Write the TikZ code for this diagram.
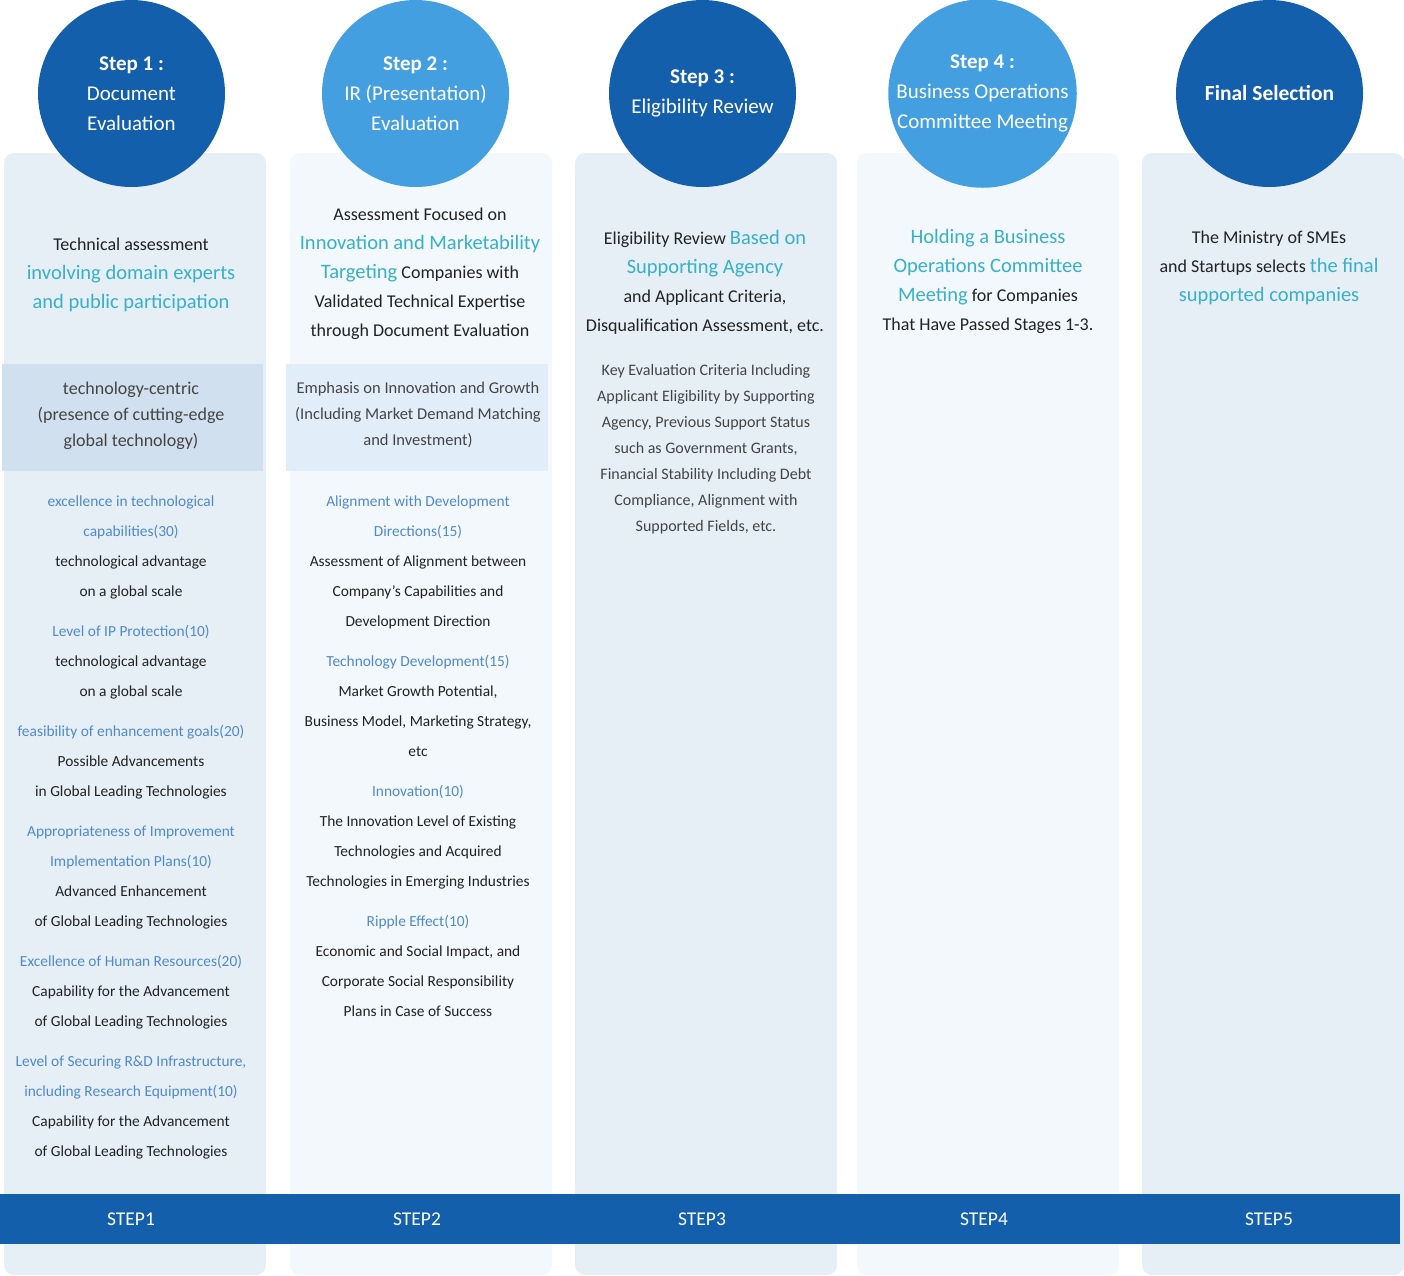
\documentclass[tikz,border=0pt]{standalone}
\usepackage{fontspec}
\setmainfont{Carlito}
\definecolor{darkblue}{HTML}{135FAC}
\definecolor{lightblue}{HTML}{439FE0}
\definecolor{colA}{HTML}{E6EEF6}
\definecolor{colB}{HTML}{F3F8FC}
\definecolor{boxA}{HTML}{D0E0EF}
\definecolor{boxB}{HTML}{E1EEFA}
\definecolor{tealtext}{HTML}{38B0C9}
\definecolor{crittext}{HTML}{4F8ACB}
\definecolor{bodytext}{HTML}{222222}
\definecolor{greytext}{HTML}{444444}
\newcommand{\tealtxt}[1]{{\fontsize{20.5}{29}\selectfont\textcolor{tealtext}{#1}}}
\newcommand{\crittxt}[1]{\textcolor{crittext}{#1}}
\begin{document}
\begin{tikzpicture}[x=1pt,y=-1pt]
\tikzset{
  stepcircle/.style={circle, minimum size=187pt, inner sep=0pt, text=white, align=center,
    font=\fontsize{21}{30}\selectfont},
  intro/.style={anchor=north, align=center, inner sep=0pt, text=bodytext,
    font=\fontsize{18}{29}\selectfont},
  focus/.style={anchor=north, align=center, inner sep=0pt, text=greytext,
    font=\fontsize{16.5}{26}\selectfont},
  criteria/.style={anchor=north, align=center, inner sep=0pt, text=bodytext,
    font=\fontsize{15.4}{30}\selectfont},
  steplabel/.style={text=white, font=\fontsize{19.5}{20}\selectfont},
}
\useasboundingbox (0,0) rectangle (1404,1275);

% columns
\foreach \x/\c in {4/colA, 290/colB, 575/colA, 857/colB, 1142/colA}
  \fill[\c, rounded corners=10pt] (\x,153) rectangle (\x+262,1275);

% highlighted boxes
\fill[boxA] (2,364) rectangle (263,471);
\fill[boxB] (286,364) rectangle (548,471);

% bottom band
\fill[darkblue] (0,1194) rectangle (1400,1244);
\foreach \x/\t [count=\i] in {131/STEP1, 417/STEP2, 702/STEP3, 984/STEP4, 1269/STEP5}
  \node[steplabel] (s\i) at (\x,1219) {\t};

% circles
\node[stepcircle, fill=darkblue] (c1) at (131.5,93.5) {\textbf{Step 1 :}\\Document\\Evaluation};
\node[stepcircle, fill=lightblue] (c2) at (415.5,93.5) {\textbf{Step 2 :}\\IR (Presentation)\\Evaluation};
\node[stepcircle, fill=darkblue] (c3) at (702.5,93.5) {\textbf{Step 3 :}\\Eligibility Review};
\node[stepcircle, fill=lightblue] (c4) at (982.5,93.5) {\textbf{Step 4 :}\\Business Operations\\Committee Meeting};
\node[stepcircle, fill=darkblue, font=\fontsize{21.5}{30}\selectfont] (c5) at (1269.5,93.5) {\textbf{Final Selection}};

% step 1
\node[intro] (t1) at (131,238) {Technical assessment\\
  \tealtxt{involving domain experts}\\\tealtxt{and public participation}};
\node[focus, font=\fontsize{18}{26}\selectfont] (f1) at (131,382) {technology-centric\\(presence of cutting-edge\\global technology)};
\node[criteria] (k1) at (131,496) {\crittxt{excellence in technological}\\\crittxt{capabilities(30)}\\
  technological advantage\\on a global scale\\[10pt]
  \crittxt{Level of IP Protection(10)}\\technological advantage\\on a global scale\\[10pt]
  \crittxt{feasibility of enhancement goals(20)}\\Possible Advancements\\in Global Leading Technologies\\[10pt]
  \crittxt{Appropriateness of Improvement}\\\crittxt{Implementation Plans(10)}\\
  Advanced Enhancement\\of Global Leading Technologies\\[10pt]
  \crittxt{Excellence of Human Resources(20)}\\Capability for the Advancement\\of Global Leading Technologies\\[10pt]
  \crittxt{Level of Securing R\&D Infrastructure,}\\\crittxt{including Research Equipment(10)}\\
  Capability for the Advancement\\of Global Leading Technologies};

% step 2
\node[intro] (t2) at (420,208) {Assessment Focused on\\\tealtxt{Innovation and Marketability}\\
  \tealtxt{Targeting} Companies with\\Validated Technical Expertise\\through Document Evaluation};
\node[focus] (f2) at (418,382) {Emphasis on Innovation and Growth\\(Including Market Demand Matching\\and Investment)};
\node[criteria] (k2) at (418,496) {\crittxt{Alignment with Development}\\\crittxt{Directions(15)}\\
  Assessment of Alignment between\\Company's Capabilities and\\Development Direction\\[10pt]
  \crittxt{Technology Development(15)}\\Market Growth Potential,\\Business Model, Marketing Strategy,\\etc\\[10pt]
  \crittxt{Innovation(10)}\\The Innovation Level of Existing\\Technologies and Acquired\\Technologies in Emerging Industries\\[10pt]
  \crittxt{Ripple Effect(10)}\\Economic and Social Impact, and\\Corporate Social Responsibility\\Plans in Case of Success};

% step 3
\node[intro] (t3) at (705,230) {Eligibility Review \tealtxt{Based on}\\\tealtxt{Supporting Agency}\\
  and Applicant Criteria,\\Disqualification Assessment, etc.};
\node[focus, font=\fontsize{16}{26}\selectfont] (d3) at (706,364) {Key Evaluation Criteria Including\\
  Applicant Eligibility by Supporting\\Agency, Previous Support Status\\such as Government Grants,\\
  Financial Stability Including Debt\\Compliance, Alignment with\\Supported Fields, etc.};

% step 4
\node[intro] (t4) at (988,229) {\tealtxt{Holding a Business}\\\tealtxt{Operations Committee}\\
  \tealtxt{Meeting} for Companies\\That Have Passed Stages 1-3.};

% final selection
\node[intro] (t5) at (1269,231) {The Ministry of SMEs\\and Startups selects \tealtxt{the final}\\
  \tealtxt{supported companies}};
\end{tikzpicture}
\end{document}
